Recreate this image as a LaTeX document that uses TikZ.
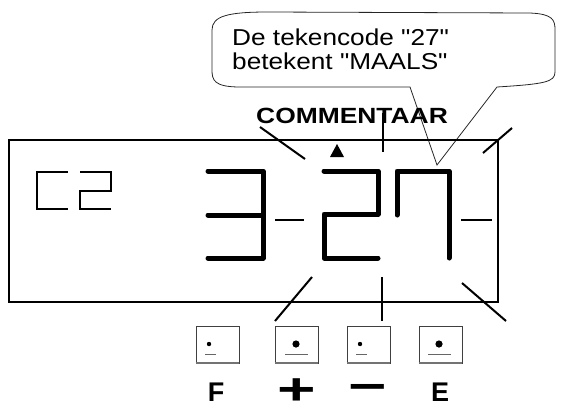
\documentclass[tikz,border=0pt]{standalone}
\usepackage{fontspec}
\setmainfont{Liberation Sans}
\begin{document}
\begin{tikzpicture}[x=1pt,y=-1pt,
  frame/.style={line width=2pt},
  ray/.style={line width=2pt},
  seg/.style={line width=5pt,line cap=round,line join=round},
  thinseg/.style={line width=1.6pt,line join=miter},
  callout/.style={line width=0.8pt,draw=black!85},
  btn/.style={draw=black!75,line width=0.8pt,minimum width=43pt,minimum height=37pt,inner sep=0pt},
  btnbase/.style={draw=black!55,line width=2pt},
  uline/.style={draw=black!60,line width=1pt},
  lbl/.style={inner sep=0pt,text depth=0pt,font=\fontsize{27}{30}\selectfont\bfseries},
  sym/.style={inner sep=0pt,text depth=0pt,font=\fontsize{44}{48}\selectfont\bfseries},
]
\useasboundingbox (0,0) rectangle (569,405);

% callout
\draw[callout] (410,87) -- (240,87) .. controls (214,87) and (212,80) .. (212,70)
  -- (212,30) .. controls (212,16) and (228,12) .. (268,12) -- (530,13)
  .. controls (553,14) and (555,20) .. (555,30) -- (555,72)
  .. controls (555,82) and (545,84) .. (497,87) -- (437,165) -- cycle;
\node[anchor=base west,inner sep=0pt] (l1) at (232,45)
  {\fontsize{23}{26}\selectfont\scalebox{1.14}[1]{De tekencode \textquotedbl 27\textquotedbl}};
\node[anchor=base west,inner sep=0pt] (l2) at (232,69)
  {\fontsize{23}{26}\selectfont\scalebox{1.14}[1]{betekent \textquotedbl MAALS\textquotedbl}};

% title
\node[anchor=base west,inner sep=0pt] (com) at (256,123)
  {\fontsize{22}{25}\selectfont\bfseries\scalebox{1.2}[1]{COMMENTAAR}};

% display frame
\draw[frame] (9,140) rectangle (498,302);

% rays
\draw[ray] (260,127) -- (305,159);
\draw[ray] (383,113) -- (383,152);
\draw[ray] (483,153) -- (512,128);
\draw[ray] (312,277) -- (275,321);
\draw[ray] (382,277) -- (382,321);
\draw[ray] (462,283) -- (506,321);
\draw[ray] (275,220) -- (304,220);
\draw[ray] (461,220) -- (492,220);

% triangle
\fill (337,144) -- (344,157) -- (330,157) -- cycle;

% C2
\draw[thinseg] (68,172) -- (37,172) -- (37,209) -- (68,209);
\draw[thinseg] (80,172) -- (111,172) -- (111,191) -- (80,191) -- (80,209) -- (111,209);

% digit 3
\draw[seg] (208,171) -- (263,171) -- (263,258) -- (208,258);
\draw[seg] (208,215) -- (263,215);
% digit 2
\draw[seg] (324,171) -- (378,171) -- (378,214) -- (324,214) -- (324,258) -- (378,258);
% digit 7
\draw[seg] (397,215) -- (397,171) -- (449,171) -- (449,258);

% buttons
\node[btn] (bF) at (217.5,344.5) {};
\node[btn] (bP) at (296.5,344.5) {};
\node[btn] (bM) at (368.5,344.5) {};
\node[btn] (bE) at (440.5,344.5) {};
\foreach \b in {bF,bP,bM,bE}{\draw[btnbase] (\b.south west) -- (\b.south east);}
\fill (209,344) circle (2.2);
\draw[uline] (205,354) -- (216,354);
\fill (296,344) circle (3.6);
\draw[uline] (285,354) -- (308,354);
\fill (360,344) circle (2.2);
\draw[uline] (356,354) -- (367,354);
\fill (439,344) circle (3.6);
\draw[uline] (428,354) -- (451,354);

% labels
\node[lbl,anchor=base] (tF) at (216,401) {F};
\node[lbl,anchor=base] (tE) at (440,401) {E};
\node[sym,anchor=base] (tP) at (297,404) {\scalebox{1.5}[1]{+}};
\node[sym,anchor=base] (tM) at (368,401) {\scalebox{1.5}[1]{−}};
\end{tikzpicture}
\end{document}
